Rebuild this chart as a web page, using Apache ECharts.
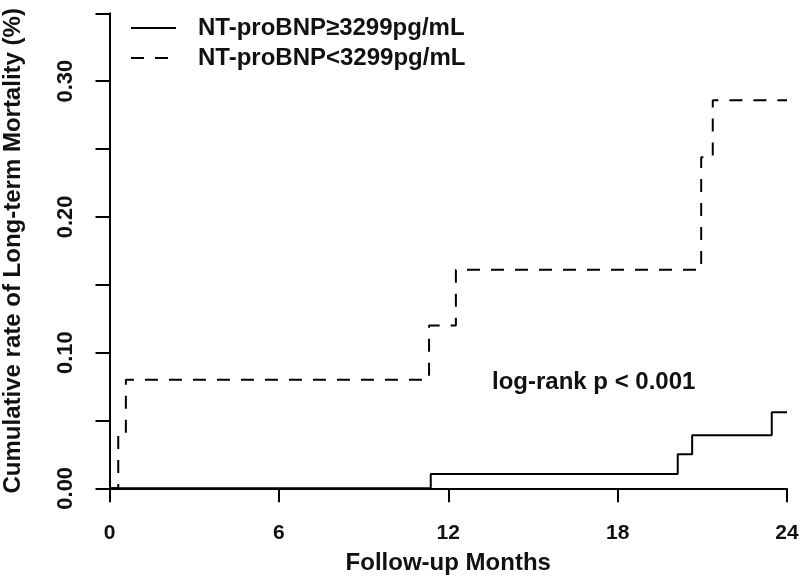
<!DOCTYPE html>
<html>
<head>
<meta charset="utf-8">
<script src="https://cdn.jsdelivr.net/npm/echarts@6/dist/echarts.min.js"></script>
<style>html,body{margin:0;padding:0;background:#fff}#c{width:800px;height:579px}</style>
</head>
<body>
<div id="c"></div>
<script>
// Kaplan-Meier step points [month, cumulative rate]
var highTimes = [0, 11.38, 20.13, 20.64, 23.46, 24];
var highRates = [0, 0.0105, 0.025, 0.039, 0.056, 0.056];
var lowTimes = [0, 0.31, 0.58, 11.32, 12.27, 20.96, 21.37, 24];
var lowRates = [0, 0.04, 0.08, 0.12, 0.161, 0.244, 0.286, 0.286];
var seriesNames = ['NT-proBNP\u22653299pg/mL', 'NT-proBNP<3299pg/mL'];
var xTicks = [0, 6, 12, 18, 24];
var yLabels = ['0.00', '0.10', '0.20', '0.30'];
var annotation = 'log-rank p < 0.001';

function pairs(t, r) { return t.map(function (v, i) { return [v, r[i]]; }); }
var FONT = 'Liberation Sans, Arial, sans-serif';
var chart = echarts.init(document.getElementById('c'), null, { renderer: 'canvas' });
chart.setOption({
  animation: false,
  backgroundColor: '#fff',
  grid: { left: 109.5, right: 13, top: 13.3, bottom: 90.7, containLabel: false, outerBoundsMode: 'none' },
  legend: {
    orient: 'vertical', left: 130, top: 16, padding: 0,
    itemWidth: 45, itemHeight: 14, itemGap: 6,
    itemStyle: { color: 'transparent', borderWidth: 0 },
    textStyle: { fontFamily: FONT, fontWeight: 'bold', fontSize: 24, color: '#111', padding: [0, 0, 0, 17] },
    data: seriesNames
  },
  xAxis: {
    type: 'value', min: 0, max: 24, interval: 6,
    name: 'Follow-up Months', nameLocation: 'middle', nameGap: 63,
    nameTextStyle: { fontFamily: FONT, fontWeight: 'bold', fontSize: 24, color: '#111' },
    axisLine: { show: true, onZero: false, lineStyle: { color: '#000', width: 2 } },
    axisTick: { show: true, length: 14, lineStyle: { color: '#000', width: 2 } },
    axisLabel: { margin: 34, fontFamily: FONT, fontWeight: 'bold', fontSize: 21, color: '#111',
      formatter: function (v) { return xTicks.indexOf(v) >= 0 ? String(v) : ''; } },
    splitLine: { show: false }
  },
  yAxis: {
    type: 'value', min: 0, max: 0.35, interval: 0.05,
    name: 'Cumulative rate of Long-term Mortality (%)', nameLocation: 'middle', nameGap: 84, nameRotate: 90,
    nameTextStyle: { fontFamily: FONT, fontWeight: 'bold', fontSize: 24, color: '#111' },
    axisLine: { show: true, onZero: false, lineStyle: { color: '#000', width: 2 } },
    axisTick: { show: true, length: 14, lineStyle: { color: '#000', width: 2 } },
    axisLabel: { rotate: 90, margin: 33, fontFamily: FONT, fontWeight: 'bold', fontSize: 22, color: '#111',
      formatter: function (v) { var s = v.toFixed(2); return yLabels.indexOf(s) >= 0 ? s : ''; } },
    splitLine: { show: false }
  },
  graphic: [{
    type: 'text', left: 492, top: 370,
    style: { text: annotation, fontFamily: FONT, fontWeight: 'bold', fontSize: 24, fill: '#111' }
  }],
  series: [
    { name: seriesNames[0], type: 'line', step: 'end', showSymbol: false, symbol: 'none',
      data: pairs(highTimes, highRates), lineStyle: { color: '#000', width: 2 }, itemStyle: { color: '#000' } },
    { name: seriesNames[1], type: 'line', step: 'end', showSymbol: false, symbol: 'none',
      data: pairs(lowTimes, lowRates), lineStyle: { color: '#000', width: 2, type: [13, 11] }, itemStyle: { color: '#000' } }
  ]
});
</script>
</body>
</html>
